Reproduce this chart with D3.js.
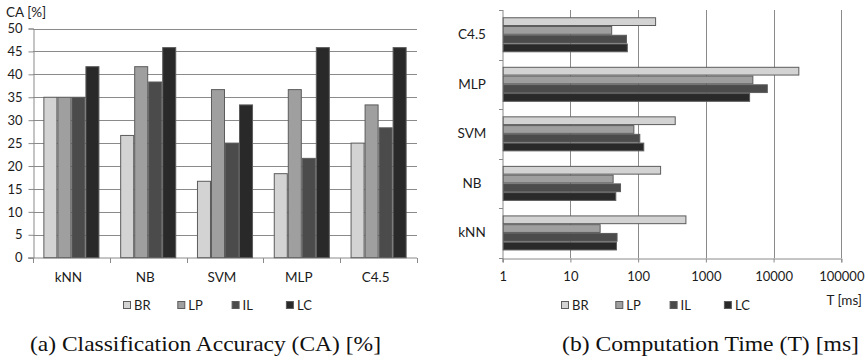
<!DOCTYPE html>
<html>
<head>
<meta charset="utf-8">
<script src="https://cdn.jsdelivr.net/npm/d3@7"></script>
<style>
  body { margin: 0; background: #fff; }
  svg text { font-family: Lato, "Open Sans", sans-serif; fill: #1c1c1c; }
  .caption { font-family: "Liberation Serif", "DejaVu Serif", serif !important; fill: #111; }
</style>
</head>
<body>
<svg width="867" height="361"></svg>
<script>
// data
const categories = ["kNN", "NB", "SVM", "MLP", "C4.5"];
const series = ["BR", "LP", "IL", "LC"];
const colors = ["#d3d3d3", "#9f9f9f", "#4b4b4b", "#282928"];

// classification accuracy [%]
const caBR = [35, 26.67, 16.67, 18.33, 25];
const caLP = [35, 41.67, 36.67, 36.67, 33.33];
const caIL = [35, 38.33, 25, 21.67, 28.33];
const caLC = [41.67, 45.83, 33.33, 45.83, 45.83];

// computation time [ms]
const tBR = [499, 211, 347, 23200, 178];
const tLP = [27, 42, 85, 4860, 40];
const tIL = [48, 54, 104, 7940, 66];
const tLC = [47, 46, 119, 4350, 68];

const caTicks = [0, 5, 10, 15, 20, 25, 30, 35, 40, 45, 50];
const tTicks = [1, 10, 100, 1000, 10000, 100000];

const caData = [caBR, caLP, caIL, caLC];
const tData = [tBR, tLP, tIL, tLC];

const svg = d3.select("svg");
const gridColor = "#8a8a8a";
const barStroke = "#5c5c5c";
const fs = "13.5px";

// ---------- (a) vertical bars ----------
const a = svg.append("g");
const x0 = d3.scaleBand().domain(categories).range([33, 417])
    .paddingInner(0.27).paddingOuter(0.135);
const x1 = d3.scaleBand().domain(series).range([0, x0.bandwidth()]);
const y = d3.scaleLinear().domain([0, 50]).range([257.7, 28.5]);

// gridlines
a.selectAll(".grid").data(caTicks.slice(1)).enter().append("line")
    .attr("x1", 33).attr("x2", 417)
    .attr("y1", d => Math.round(y(d)) + 0.5).attr("y2", d => Math.round(y(d)) + 0.5)
    .attr("stroke", gridColor);

const yAxis = a.append("g").attr("transform", "translate(33.5,0)")
    .call(d3.axisLeft(y).tickValues(caTicks).tickSize(5).tickPadding(6));
yAxis.select(".domain").attr("stroke", gridColor);
yAxis.selectAll(".tick line").attr("stroke", gridColor);
yAxis.selectAll("text").style("font-size", "13px");

const xAxisA = a.append("g").attr("transform", "translate(0,258)");
xAxisA.append("line").attr("x1", 28).attr("x2", 417).attr("stroke", gridColor);
xAxisA.selectAll(".bt").data(d3.range(categories.length + 1)).enter().append("line")
    .attr("x1", i => Math.round(33 + i * x0.step()) + 0.5)
    .attr("x2", i => Math.round(33 + i * x0.step()) + 0.5)
    .attr("y1", 0).attr("y2", 5).attr("stroke", gridColor);
xAxisA.selectAll(".lbl").data(categories).enter().append("text")
    .attr("x", d => x0(d) + x0.bandwidth() / 2 - 3)
    .attr("y", 23.5)
    .attr("text-anchor", "middle")
    .style("font-size", fs)
    .text(d => d);

a.selectAll(".grp").data(categories).enter().append("g")
    .attr("transform", d => `translate(${x0(d)},0)`)
    .selectAll("rect")
    .data((d, i) => series.map((s, j) => ({ s: s, j: j, v: caData[j][i] })))
    .enter().append("rect")
    .attr("x", d => x1(d.s) + 0.5)
    .attr("width", x1.bandwidth() - 1)
    .attr("y", d => y(d.v))
    .attr("height", d => y(0) - y(d.v))
    .attr("fill", d => colors[d.j])
    .attr("stroke", barStroke);

a.append("text").attr("x", 6).attr("y", 17).style("font-size", fs).text("CA [%]");

// ---------- (b) horizontal bars, log scale ----------
const b = svg.append("g");
const xl = d3.scaleLog().domain([1, 100000]).range([502.7, 841.3]);
const yb = d3.scaleBand().domain(categories.slice().reverse()).range([10, 257.7])
    .paddingInner(0.293).paddingOuter(0.1465);
const yb1 = d3.scaleBand().domain(series).range([0, yb.bandwidth()]);

b.selectAll(".grid").data(tTicks.slice(1)).enter().append("line")
    .attr("x1", d => Math.round(xl(d)) + 0.5).attr("x2", d => Math.round(xl(d)) + 0.5)
    .attr("y1", 10).attr("y2", 258)
    .attr("stroke", gridColor);

const xAxisB = b.append("g").attr("transform", "translate(0,258.5)")
    .call(d3.axisBottom(xl).tickValues(tTicks).tickFormat(d3.format("d")).tickSize(4).tickPadding(9));
xAxisB.select(".domain").attr("stroke", gridColor);
xAxisB.selectAll(".tick line").attr("stroke", gridColor);
xAxisB.selectAll("text").style("font-size", "13px");

const yAxisB = b.append("g").attr("transform", "translate(503,0)");
yAxisB.append("line").attr("y1", 10).attr("y2", 262).attr("stroke", gridColor);
yAxisB.selectAll(".bt").data(d3.range(categories.length + 1)).enter().append("line")
    .attr("y1", i => Math.round(10 + i * yb.step()) + 0.5)
    .attr("y2", i => Math.round(10 + i * yb.step()) + 0.5)
    .attr("x1", -4).attr("x2", 0).attr("stroke", gridColor);
b.selectAll(".lbl").data(categories).enter().append("text")
    .attr("x", 472)
    .attr("y", d => yb(d) + yb.bandwidth() / 2 + 4.5)
    .attr("text-anchor", "middle")
    .style("font-size", fs)
    .text(d => d);

b.selectAll(".grp").data(categories).enter().append("g")
    .attr("transform", d => `translate(0,${yb(d)})`)
    .selectAll("rect")
    .data((d, i) => series.map((s, j) => ({ s: s, j: j, v: tData[j][i] })))
    .enter().append("rect")
    .attr("x", xl(1) + 0.5)
    .attr("y", d => yb1(d.s) + 0.5)
    .attr("height", yb1.bandwidth() - 1)
    .attr("width", d => xl(d.v) - xl(1))
    .attr("fill", d => colors[d.j])
    .attr("stroke", barStroke);

b.append("text").attr("x", 862).attr("y", 304.5).attr("text-anchor", "end")
    .style("font-size", fs).text("T [ms]");

// ---------- legends ----------
function legend(g, x0, yc) {
    const item = g.selectAll(".leg").data(series).enter().append("g")
        .attr("transform", (d, i) => `translate(${x0 + i * 54.3},${yc})`);
    item.append("rect").attr("x", 0.5).attr("y", -3.5).attr("width", 7).attr("height", 7)
        .attr("fill", (d, i) => colors[i]).attr("stroke", barStroke);
    item.append("text").attr("x", 11).attr("y", 5).style("font-size", "13px").text(d => d);
}
legend(a, 123, 305);
legend(b, 561, 305);

// ---------- captions ----------
svg.append("text").attr("class", "caption").attr("x", 30).attr("y", 351)
    .attr("textLength", 351).attr("lengthAdjust", "spacingAndGlyphs")
    .style("font-size", "22px").text("(a) Classification Accuracy (CA) [%]");
svg.append("text").attr("class", "caption").attr("x", 562).attr("y", 351)
    .attr("textLength", 297).attr("lengthAdjust", "spacingAndGlyphs")
    .style("font-size", "22px").text("(b) Computation Time (T) [ms]");
</script>
</body>
</html>
